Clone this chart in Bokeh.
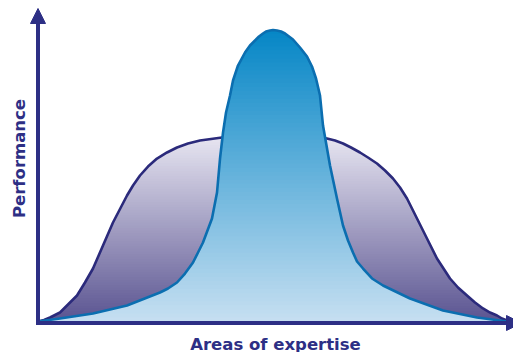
import numpy as np
from bokeh.plotting import figure
from bokeh.models import Range1d, Arrow, NormalHead
from bokeh.core.properties import value
from bokeh.embed import file_html
from bokeh.resources import INLINE

# ---- data (x = area of expertise, y = performance) ----
wide_x = [0.0, 1.28, 2.56, 4.69, 6.40, 8.32, 10.02, 11.73, 13.86, 15.99, 18.98,
          20.26, 21.75, 23.45, 25.37, 27.51, 29.64, 31.98, 34.54, 36.89, 39.23,
          45.20, 50.11, 55.86, 61.62, 63.33, 65.03, 66.74, 68.66, 70.36, 72.28,
          73.99, 75.69, 77.19, 78.68, 80.81, 82.94, 85.07, 87.85, 89.55, 91.47,
          93.18, 94.88, 96.38, 97.87, 98.93, 100.0]
wide_y = [0.0, 0.52, 1.37, 3.09, 5.84, 8.93, 13.40, 18.21, 26.12, 34.02, 43.30,
          46.74, 50.17, 53.26, 56.01, 58.08, 59.79, 61.17, 62.20, 62.71, 63.23,
          64.09, 64.26, 64.09, 62.89, 62.20, 61.17, 59.79, 58.08, 56.36, 54.30,
          51.89, 49.14, 46.05, 42.27, 35.40, 28.52, 21.65, 14.78, 11.68, 8.93,
          6.53, 4.47, 3.09, 2.06, 1.03, 0.34]

tall_x = [0.0, 4.69, 11.73, 18.98, 26.01, 27.72, 29.64, 31.34, 33.05, 34.12, 35.18,
          37.10, 38.17, 38.81, 39.45, 40.09, 40.94, 41.58, 42.64, 44.14, 45.20,
          46.27, 47.12, 47.97, 48.61, 49.47, 50.11, 50.96, 51.81, 52.67, 53.52,
          54.37, 55.86, 57.36, 58.42, 59.28, 60.13, 60.77, 62.26, 63.75, 65.03,
          66.10, 67.16, 68.02, 69.30, 71.22, 73.56, 79.32, 86.35, 93.60, 100.0]
tall_y = [0.0, 1.03, 2.75, 5.50, 9.97, 11.34, 13.40, 16.49, 20.27, 23.71, 27.15,
          35.40, 44.33, 56.01, 64.95, 71.82, 77.66, 82.82, 87.97, 92.44, 94.85,
          96.56, 97.94, 98.97, 99.66, 100.0, 100.17, 100.0, 99.66, 98.97, 97.94,
          96.91, 94.16, 91.07, 87.63, 83.51, 77.66, 67.35, 53.61, 42.27, 32.99,
          27.84, 23.71, 20.62, 18.21, 14.78, 12.37, 7.90, 3.78, 1.37, 0.0]

x_label = "Areas of expertise"
y_label = "Performance"

# ---- styles ----
AXIS_C = "#2d2f85"
WIDE_LINE = "#2b2a7b"
TALL_LINE = "#0b6eb0"
WIDE_TOP, WIDE_BOTTOM = "#e9e7f2", "#5a5491"
TALL_TOP, TALL_BOTTOM = "#0586c6", "#c6dff1"


def hex2rgb(h):
    h = h.lstrip("#")
    return np.array([int(h[i:i + 2], 16) for i in (0, 2, 4)], dtype=float)


def lerp_color(c0, c1, t):
    a, b = hex2rgb(c0), hex2rgb(c1)
    c = a + (b - a) * t
    return "#%02x%02x%02x" % tuple(int(round(v)) for v in c)


def clip_below(xs, ys, hi):
    """Polyline clipped from above at level hi (crossing points inserted)."""
    ox, oy = [xs[0]], [ys[0]]
    for i in range(len(xs) - 1):
        x0, y0, x1, y1 = xs[i], ys[i], xs[i + 1], ys[i + 1]
        if (y0 - hi) * (y1 - hi) < 0:
            t = (hi - y0) / (y1 - y0)
            ox.append(x0 + t * (x1 - x0))
            oy.append(hi)
        ox.append(x1)
        oy.append(y1)
    return ox, list(np.minimum(oy, hi))


def gradient_area(p, xs, ys, top_c, bottom_c, n=72):
    ymax = max(ys)
    for k in range(n, 0, -1):
        hi = ymax * k / n
        t = (k - 0.5) / n
        color = lerp_color(bottom_c, top_c, t)
        cx, cy = clip_below(xs, ys, hi)
        p.varea(x=cx, y1=[0.0] * len(cx), y2=cy, fill_color=color,
                fill_alpha=1.0)


W, H = 513, 352
SX, SY = 4.69, 2.91          # screen pixels per data unit
X0_PX, Y0_PX = 37.5, 321.0   # screen position of data origin
x0 = -X0_PX / SX
x1 = x0 + W / SX
y1 = Y0_PX / SY
y0 = y1 - H / SY


def px_x(px):
    return (px - X0_PX) / SX


def px_y(py):
    return (Y0_PX - py) / SY


p = figure(width=W, height=H, x_range=Range1d(x0, x1), y_range=Range1d(y0, y1),
           output_backend="svg", toolbar_location=None, min_border=0,
           x_axis_location=None, y_axis_location=None)
p.grid.visible = False
p.outline_line_color = None
p.background_fill_color = "white"
p.border_fill_color = "white"

gradient_area(p, wide_x, wide_y, WIDE_TOP, WIDE_BOTTOM)
p.line(wide_x, wide_y, line_color=WIDE_LINE, line_width=2.6, line_join="round")
gradient_area(p, tall_x, tall_y, TALL_TOP, TALL_BOTTOM)
p.line(tall_x, tall_y, line_color=TALL_LINE, line_width=2.6, line_join="round")

axis_y = px_y(322.5)
p.add_layout(Arrow(end=NormalHead(size=15, fill_color=AXIS_C, line_color=AXIS_C, line_width=1),
                   x_start=0, y_start=axis_y - 0.7, x_end=0, y_end=px_y(8),
                   line_color=AXIS_C, line_width=4))
p.add_layout(Arrow(end=NormalHead(size=15, fill_color=AXIS_C, line_color=AXIS_C, line_width=1),
                   x_start=px_x(35.5), y_start=axis_y, x_end=px_x(521), y_end=axis_y,
                   line_color=AXIS_C, line_width=4))

p.text(x=[px_x(275)], y=[px_y(343.5)], text=[x_label],
       text_font=value("DejaVu Sans"), text_font_style="bold", text_font_size="16.5px",
       text_color=AXIS_C, text_align="center", text_baseline="alphabetic")
p.text(x=[px_x(18.9)], y=[px_y(158)], text=[y_label], angle=np.pi / 2,
       text_font=value("DejaVu Sans"), text_font_style="bold", text_font_size="16.5px",
       text_color=AXIS_C, text_align="center", text_baseline="middle")

open("out.html", "w").write(file_html(p, INLINE))
